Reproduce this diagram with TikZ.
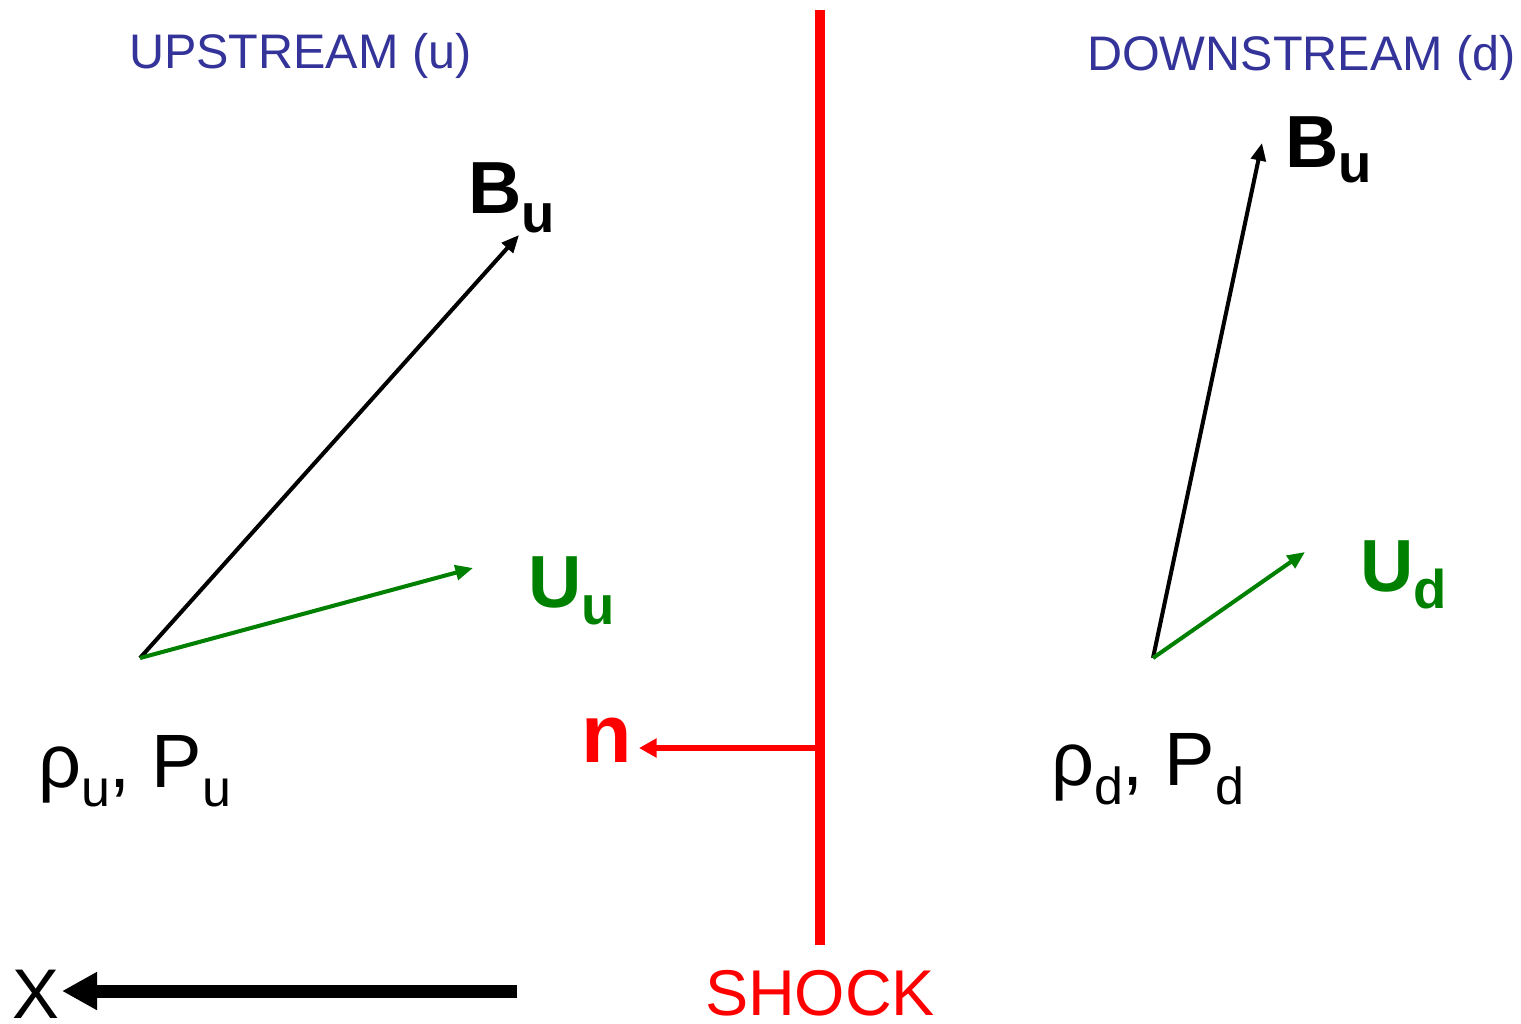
\documentclass[tikz,border=0pt]{standalone}
\usepackage{fontspec}
\setmainfont{Liberation Sans}
\usetikzlibrary{arrows.meta}
\definecolor{hdblue}{RGB}{51,51,153}
\definecolor{vgreen}{RGB}{0,128,0}
\definecolor{shred}{RGB}{255,0,0}
\newcommand\lowsub[3]{\raisebox{-#1}{\fontsize{#2}{#2}\selectfont #3}}
\begin{document}
\begin{tikzpicture}[x=0.01cm,y=-0.01cm,
  lbl/.style={inner sep=0pt,outer sep=0pt,anchor=base west},
  head/.style={lbl,text=hdblue,font=\fontsize{13.8}{14}\selectfont},
  vec/.style={line width=1.15pt,-{Triangle[length=5pt,width=4.2pt]}},
  bigvec/.style={lbl,font=\fontsize{21}{22}\selectfont\bfseries},
  rp/.style={lbl,font=\fontsize{21.5}{22}\selectfont}]
\useasboundingbox (0,0) rectangle (1521,1023);
% headings
\node[head] (up) at (129,68) {UPSTREAM (u)};
\node[head] (down) at (1087,70) {DOWNSTREAM (d)};
% shock
\coordinate (s1) at (820,10);
\coordinate (s2) at (820,945);
\draw[shred,line width=3pt] (s1) -- (s2);
\node[lbl,text=shred,font=\fontsize{18.4}{18}\selectfont] (shock) at (705,1015) {SHOCK};
% normal
\coordinate (nt) at (820,748);
\coordinate (nh) at (639,748);
\draw[shred,line width=1.5pt,-{Triangle[length=5pt,width=5.2pt]}] (nt) -- (nh);
\node[lbl,text=shred,font=\fontsize{23.5}{24}\selectfont\bfseries] (n) at (581,762) {n};
% upstream vectors
\coordinate (o1) at (140,658);
\coordinate (b1) at (519,235);
\coordinate (u1) at (473,568);
\draw[vec,black] (o1) -- (b1);
\draw[vec,vgreen] (o1) -- (u1);
\node[bigvec] (bu) at (468,213) {B\lowsub{5.4pt}{15.5}{u}};
\node[bigvec,text=vgreen] (uu) at (528,607) {U\lowsub{5pt}{15.5}{u}};
\node[rp] (ru) at (38,787) {ρ\lowsub{5.4pt}{14.8}{u}, P\lowsub{5.4pt}{14.8}{u}};
% downstream vectors
\coordinate (o2) at (1153,658);
\coordinate (b2) at (1262,143);
\coordinate (u2) at (1305,552);
\draw[vec,black] (o2) -- (b2);
\draw[vec,vgreen] (o2) -- (u2);
\node[bigvec] (bd) at (1285,167) {B\lowsub{4.5pt}{15.5}{u}};
\node[bigvec,text=vgreen] (ud) at (1360,591) {U\lowsub{5pt}{15.5}{d}};
\node[rp] (rd) at (1051,785) {ρ\lowsub{5.4pt}{14.8}{d}, P\lowsub{5.4pt}{14.8}{d}};
% x axis
\coordinate (xa) at (517,991);
\coordinate (xb) at (62,991);
\draw[line width=3.7pt,-{Triangle[length=10pt,width=10.2pt]}] (xa) -- (xb);
\node[lbl,font=\fontsize{20}{20}\selectfont] (x) at (12,1018) {X};
\end{tikzpicture}
\end{document}
